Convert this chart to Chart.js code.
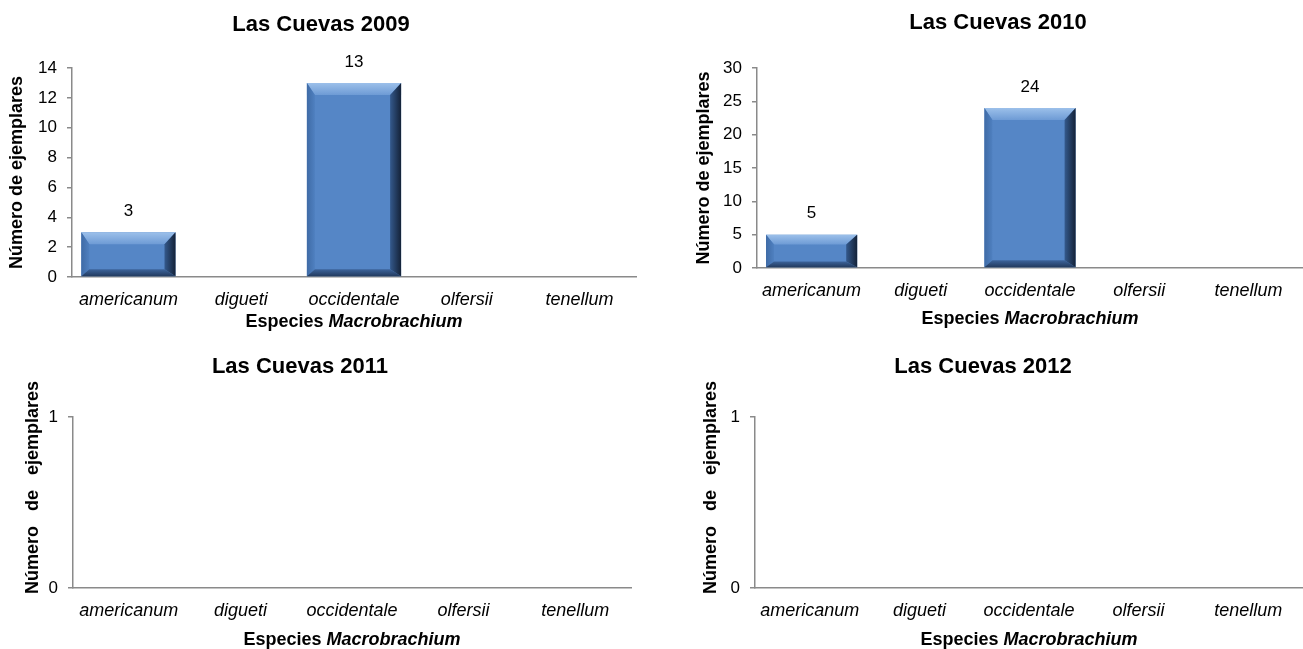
<!DOCTYPE html>
<html>
<head>
<meta charset="utf-8">
<script src="https://cdn.jsdelivr.net/npm/chart.js@4.4.1/dist/chart.umd.min.js"></script>
<style>
  html, body { margin: 0; padding: 0; background: #fff; }
  body { width: 1303px; height: 649px; position: relative; overflow: hidden; }
  canvas { position: absolute; }
</style>
</head>
<body>
<canvas id="c2009" width="650" height="340" style="left:0px;top:0px"></canvas>
<canvas id="c2010" width="653" height="340" style="left:650px;top:0px"></canvas>
<canvas id="c2011" width="650" height="309" style="left:0px;top:340px"></canvas>
<canvas id="c2012" width="653" height="309" style="left:650px;top:340px"></canvas>
<script>
// datos por año
const species = ['americanum', 'digueti', 'occidentale', 'olfersii', 'tenellum']
const count2009 = [3, 0, 13, 0, 0]
const count2010 = [5, 0, 24, 0, 0]
const count2011 = [0, 0, 0, 0, 0]
const count2012 = [0, 0, 0, 0, 0]

const FONT = '"Liberation Sans", Arial, sans-serif'
const axisGrey = '#8a8a8a'

// bisel tipo "3D" encima de cada barra (usa las posiciones de la librería)
const bevelBars = {
  id: 'bevelBars',
  afterDatasetsDraw(chart) {
    const ctx = chart.ctx
    const meta = chart.getDatasetMeta(0)
    meta.data.forEach((bar) => {
      const p = bar.getProps(['x', 'y', 'base', 'width'], true)
      const l = p.x - p.width / 2
      const r = p.x + p.width / 2
      const t = Math.min(p.y, p.base)
      const b = Math.max(p.y, p.base)
      const h = b - t
      if (h < 2) return
      const st = Math.min(12, h * 0.3)
      const sb = Math.min(7, h * 0.18)
      const sl = 8
      const sr = 11
      ctx.save()
      // arriba
      let g = ctx.createLinearGradient(0, t, 0, t + st)
      g.addColorStop(0, '#9cc0ea')
      g.addColorStop(1, '#6e9bd5')
      ctx.fillStyle = g
      ctx.beginPath()
      ctx.moveTo(l, t); ctx.lineTo(r, t); ctx.lineTo(r - sr, t + st); ctx.lineTo(l + sl, t + st)
      ctx.closePath(); ctx.fill()
      // izquierda
      g = ctx.createLinearGradient(l, 0, l + sl, 0)
      g.addColorStop(0, '#3f6ba6')
      g.addColorStop(1, '#4f80c0')
      ctx.fillStyle = g
      ctx.beginPath()
      ctx.moveTo(l, t); ctx.lineTo(l + sl, t + st); ctx.lineTo(l + sl, b - sb); ctx.lineTo(l, b)
      ctx.closePath(); ctx.fill()
      // abajo
      g = ctx.createLinearGradient(0, b - sb, 0, b)
      g.addColorStop(0, '#3d649b')
      g.addColorStop(1, '#223a5e')
      ctx.fillStyle = g
      ctx.beginPath()
      ctx.moveTo(l, b); ctx.lineTo(r, b); ctx.lineTo(r - sr, b - sb); ctx.lineTo(l + sl, b - sb)
      ctx.closePath(); ctx.fill()
      // derecha
      g = ctx.createLinearGradient(r - sr, 0, r, 0)
      g.addColorStop(0, '#34598c')
      g.addColorStop(1, '#142238')
      ctx.fillStyle = g
      ctx.beginPath()
      ctx.moveTo(r, t); ctx.lineTo(r, b); ctx.lineTo(r - sr, b - sb); ctx.lineTo(r - sr, t + st)
      ctx.closePath(); ctx.fill()
      ctx.restore()
    })
  },
}

// titulo, etiquetas de valor y titulo del eje x (con parte en cursiva)
const panelText = {
  id: 'panelText',
  afterDraw(chart, args, opts) {
    const ctx = chart.ctx
    const area = chart.chartArea
    ctx.save()
    ctx.fillStyle = '#000'
    ctx.textBaseline = 'middle'
    ctx.textAlign = 'center'
    ctx.font = 'bold 22px ' + FONT
    ctx.fillText(opts.title, opts.titleX, opts.titleY)

    // valores sobre las barras
    ctx.font = '17px ' + FONT
    const values = chart.data.datasets[0].data
    chart.getDatasetMeta(0).data.forEach((bar, i) => {
      if (values[i] > 0) ctx.fillText(String(values[i]), bar.x, bar.y - 21)
    })

    // Especies Macrobrachium
    const a = 'Especies '
    const b = 'Macrobrachium'
    ctx.font = 'bold 18px ' + FONT
    const wa = ctx.measureText(a).width
    ctx.font = 'italic bold 18px ' + FONT
    const wb = ctx.measureText(b).width
    const x0 = (area.left + area.right) / 2 - (wa + wb) / 2
    ctx.textAlign = 'left'
    ctx.font = 'bold 18px ' + FONT
    ctx.fillText(a, x0, opts.xTitleY)
    ctx.font = 'italic bold 18px ' + FONT
    ctx.fillText(b, x0 + wa, opts.xTitleY)
    ctx.restore()
  },
}

function makePanel(id, values, cfg) {
  const ctx = document.getElementById(id).getContext('2d')
  return new Chart(ctx, {
    type: 'bar',
    data: {
      labels: species,
      datasets: [
        {
          data: values,
          backgroundColor: '#5586c6',
          borderWidth: 0,
          barPercentage: 0.835,
          categoryPercentage: 1,
        },
      ],
    },
    options: {
      responsive: false,
      animation: false,
      layout: {
        padding: { left: 0, right: cfg.padRight, top: cfg.areaTop, bottom: 0 },
      },
      plugins: {
        legend: { display: false },
        tooltip: { enabled: false },
        panelText: {
          title: cfg.title,
          titleX: cfg.titleX,
          titleY: cfg.titleY,
          xTitleY: cfg.xTitleY,
        },
      },
      scales: {
        x: {
          grid: { display: false, drawTicks: false },
          border: { display: true, color: axisGrey, width: 1.5 },
          ticks: {
            color: '#000',
            padding: 12,
            font: { family: FONT, size: 18, style: 'italic' },
          },
          afterFit: (s) => { s.height = cfg.xHeight },
        },
        y: {
          min: 0,
          max: cfg.yMax,
          ticks: {
            stepSize: cfg.yStep,
            color: '#000',
            padding: 10,
            font: { family: FONT, size: 17 },
          },
          grid: {
            drawOnChartArea: false,
            drawTicks: true,
            tickLength: 5,
            color: axisGrey,
            lineWidth: 1.5,
          },
          border: { display: true, color: axisGrey, width: 1.5 },
          title: {
            display: true,
            text: cfg.yTitle,
            color: '#000',
            font: { family: FONT, size: 18, weight: 'bold' },
            padding: { top: cfg.yTitlePad, bottom: 0 },
          },
          afterFit: (s) => { s.width = cfg.areaLeft },
        },
      },
    },
    plugins: [bevelBars, panelText],
  })
}

makePanel('c2009', count2009, {
  title: 'Las Cuevas 2009', titleX: 321, titleY: 25, xTitleY: 322,
  areaLeft: 72, padRight: 14, areaTop: 68, xHeight: 63,
  yMax: 14, yStep: 2, yTitle: 'Número de ejemplares', yTitlePad: 6,
})
makePanel('c2010', count2010, {
  title: 'Las Cuevas 2010', titleX: 348, titleY: 23, xTitleY: 319,
  areaLeft: 107, padRight: 0, areaTop: 68, xHeight: 72,
  yMax: 30, yStep: 5, yTitle: 'Número de ejemplares', yTitlePad: 43,
})
makePanel('c2011', count2011, {
  title: 'Las Cuevas 2011', titleX: 300, titleY: 27, xTitleY: 300,
  areaLeft: 73, padRight: 19, areaTop: 77, xHeight: 61,
  yMax: 1, yStep: 1, yTitle: '      Número   de   ejemplares', yTitlePad: 22,
})
makePanel('c2012', count2012, {
  title: 'Las Cuevas 2012', titleX: 333, titleY: 27, xTitleY: 300,
  areaLeft: 105, padRight: 0, areaTop: 77, xHeight: 61,
  yMax: 1, yStep: 1, yTitle: '      Número   de   ejemplares', yTitlePad: 50,
})
</script>
</body>
</html>
